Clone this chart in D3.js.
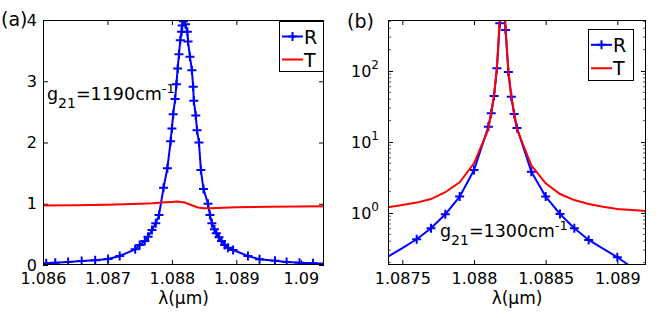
<!DOCTYPE html>
<html>
<head>
<meta charset="utf-8">
<script src="https://cdn.jsdelivr.net/npm/d3@7"></script>
<style>
  body { margin: 0; background: #fff; }
  svg { display: block; font-family: "DejaVu Sans", sans-serif; }
</style>
</head>
<body>
<div id="chart"></div>
<script>
// (a) linear scale, g21 = 1190 cm-1
var lamA = [1.0860, 1.08605, 1.08619, 1.08639, 1.08660, 1.08681, 1.08701, 1.08719, 1.08743, 1.08750,
            1.08758, 1.08763, 1.08769, 1.08775, 1.08780, 1.08787, 1.08793, 1.08798, 1.08800, 1.08802,
            1.08805, 1.08807, 1.08809, 1.08811, 1.08813, 1.08815, 1.08816, 1.08818, 1.08821, 1.08824,
            1.08825, 1.08828, 1.08831, 1.08833, 1.08834, 1.08837, 1.08839, 1.08842, 1.08845, 1.08849,
            1.08856, 1.08859, 1.08862, 1.08866, 1.08869, 1.08873, 1.08877, 1.08882, 1.08887, 1.08895,
            1.08918, 1.08936, 1.08960, 1.08978, 1.08998, 1.09019, 1.09036];
var rA = [0.025, 0.028, 0.038, 0.049, 0.065, 0.077, 0.098, 0.147, 0.256, 0.327,
          0.392, 0.462, 0.571, 0.681, 0.816, 1.26, 1.58, 2.02, 2.23, 2.46,
          2.71, 2.95, 3.21, 3.44, 3.67, 3.81, 3.91, 3.98, 3.93, 3.81,
          3.65, 3.40, 3.18, 2.91, 2.68, 2.44, 2.20, 2.00, 1.55, 1.24,
          1.00, 0.816, 0.681, 0.583, 0.518, 0.452, 0.392, 0.327, 0.282, 0.245,
          0.147, 0.093, 0.070, 0.049, 0.038, 0.028, 0.024];
var markA = lamA.slice(1, -1);
var lamAT = [1.0860, 1.0865, 1.0870, 1.0875, 1.0877, 1.0879, 1.0880, 1.08808, 1.0882, 1.0883,
             1.0884, 1.0885, 1.0886, 1.0888, 1.0890, 1.0895, 1.0900, 1.09036];
var tA = [0.970, 0.975, 0.985, 1.000, 1.010, 1.025, 1.030, 1.035, 1.020, 0.980,
          0.940, 0.928, 0.928, 0.935, 0.942, 0.950, 0.955, 0.960];
var xTicksA = [1.086, 1.087, 1.088, 1.089, 1.09];
var yTicksA = [0, 1, 2, 3, 4];

// (b) log scale, g21 = 1300 cm-1
var lamB = [1.0874, 1.0875, 1.0876, 1.0877, 1.0878, 1.0879, 1.0880, 1.0881, 1.08812, 1.08814,
            1.08816, 1.08818, 1.0882, 1.08822, 1.08824, 1.08826, 1.08828, 1.0883, 1.0884, 1.0885,
            1.0886, 1.0887, 1.0888, 1.0889, 1.0890, 1.0892];
var rB = [0.243, 0.32, 0.426, 0.609, 0.959, 1.70, 4.03, 16.4, 25.4, 44.5,
          109, 470, 2000, 378, 96.8, 43.5, 24.8, 15.7, 3.82, 1.70,
          0.968, 0.609, 0.417, 0.315, 0.238, 0.125];
var markB = [1.0876, 1.0877, 1.0878, 1.0879, 1.0880, 1.0881, 1.08812, 1.08814, 1.08816, 1.08818,
             1.08822, 1.08824, 1.08826, 1.08828, 1.0883, 1.0884, 1.0885, 1.0886, 1.0887, 1.0888, 1.0890];
var lamBT = [1.0874, 1.0875, 1.0876, 1.0877, 1.0878, 1.0879, 1.0880, 1.0881, 1.08812, 1.08814,
             1.08816, 1.08818, 1.0882, 1.08822, 1.08824, 1.08826, 1.08828, 1.0883, 1.0884, 1.0885,
             1.0886, 1.0887, 1.0888, 1.0889, 1.0890, 1.0891, 1.0892];
var tB = [1.20, 1.30, 1.40, 1.57, 1.96, 2.71, 5.0, 15, 26, 46,
          112, 560, 2000, 420, 98, 45, 25, 15, 4.7, 2.62,
          1.85, 1.52, 1.34, 1.22, 1.14, 1.10, 1.07];
var xTicksB = [1.0875, 1.088, 1.0885, 1.089];
var yTicksB = [1, 10, 100];

var svg = d3.select("#chart").append("svg").attr("width", 664).attr("height", 318);

var plus = "M-4.5,0H4.5M0,-4.5V4.5";

function panel(o) {
  var g = svg.append("g");
  var x = d3.scaleLinear().domain(o.xDomain).range([o.left, o.right]);
  var y = (o.log ? d3.scaleLog() : d3.scaleLinear()).domain(o.yDomain).range([o.bottom, o.top]);

  g.append("clipPath").attr("id", o.id).append("rect")
    .attr("x", o.left).attr("y", o.top)
    .attr("width", o.right - o.left).attr("height", o.bottom - o.top);

  // ticks, inward on all four sides
  var ax = [
    [d3.axisBottom(x).tickValues(o.xTicks).tickSize(-5).tickPadding(8).tickFormat(String), "translate(0," + o.bottom + ")"],
    [d3.axisTop(x).tickValues(o.xTicks).tickSize(-5).tickFormat(""), "translate(0," + o.top + ")"],
    [d3.axisLeft(y).tickValues(o.yTicks).tickSize(-5).tickPadding(6).tickFormat(o.log ? "" : String), "translate(" + o.left + ",0)"],
    [d3.axisRight(y).tickValues(o.yTicks).tickSize(-5).tickFormat(""), "translate(" + o.right + ",0)"]
  ];
  ax.forEach(function (a) {
    var s = g.append("g").attr("transform", a[1]).call(a[0]);
    s.select(".domain").remove();
    s.selectAll("line").attr("stroke", "#000");
    s.selectAll("text").attr("fill", "#000").style("font-size", "16px")
      .style("font-family", "DejaVu Sans, sans-serif");
  });

  if (o.log) {
    // minor ticks
    var minors = [];
    [0.1, 1, 10, 100].forEach(function (d) {
      for (var k = 2; k <= 9; k++) {
        var v = d * k;
        if (v > o.yDomain[0] && v < o.yDomain[1]) minors.push(v);
      }
    });
    [[o.left, 3], [o.right, -3]].forEach(function (s) {
      g.selectAll(null).data(minors).enter().append("line")
        .attr("x1", s[0]).attr("x2", s[0] + s[1])
        .attr("y1", function (d) { return y(d); })
        .attr("y2", function (d) { return y(d); })
        .attr("stroke", "#555").attr("stroke-width", 1);
    });
    // 10^n labels
    var lab = g.selectAll(null).data(o.yTicks).enter().append("text")
      .attr("x", o.left - 9).attr("y", function (d) { return y(d) + 6; })
      .attr("text-anchor", "end").style("font-size", "16px");
    lab.append("tspan").text("10");
    lab.append("tspan").attr("dy", -8).style("font-size", "12px")
      .text(function (d) { return Math.round(Math.log10(d)); });
  }

  var line = d3.line().x(function (d) { return x(d[0]); }).y(function (d) { return y(d[1]); });
  var plot = g.append("g").attr("clip-path", "url(#" + o.id + ")");

  var rPts = o.lam.map(function (d, i) { return [d, o.r[i]]; });
  plot.append("path").datum(rPts).attr("d", line)
    .attr("fill", "none").attr("stroke", "#0000ff").attr("stroke-width", 2);
  plot.selectAll(null).data(rPts.filter(function (d) { return o.mark.indexOf(d[0]) >= 0; }))
    .enter().append("path")
    .attr("transform", function (d) { return "translate(" + x(d[0]) + "," + y(d[1]) + ")"; })
    .attr("d", plus).attr("stroke", "#0000ff").attr("stroke-width", 2);

  var tPts = o.lamT.map(function (d, i) { return [d, o.t[i]]; });
  plot.append("path").datum(tPts).attr("d", line)
    .attr("fill", "none").attr("stroke", "#ff0000").attr("stroke-width", 2);

  // box
  g.append("rect").attr("x", o.left + 0.5).attr("y", o.top + 0.5)
    .attr("width", o.right - o.left - 1).attr("height", o.bottom - o.top - 1)
    .attr("fill", "none").attr("stroke", "#000").attr("stroke-width", 1);

  // axis label
  g.append("text").attr("x", (o.left + o.right) / 2).attr("y", 304)
    .attr("text-anchor", "middle").style("font-size", "17px").text("λ(μm)");

  // panel tag
  g.append("text").attr("x", o.tag[1]).attr("y", o.tag[2])
    .style("font-size", "19px").text(o.tag[0]);

  // annotation
  var an = g.append("text").attr("x", o.note[1]).attr("y", o.note[2]).style("font-size", "17.5px");
  an.append("tspan").text("g");
  an.append("tspan").attr("dy", 8).style("font-size", "14px").text("21");
  an.append("tspan").attr("dy", -8).text("=" + o.note[0] + "cm");
  an.append("tspan").attr("dy", -7).style("font-size", "13px").text("-1");

  // legend
  var L = o.legend;
  var lg = g.append("g");
  lg.append("rect").attr("x", L[0] + 0.5).attr("y", L[1] + 0.5).attr("width", L[2]).attr("height", L[3])
    .attr("fill", "#fff").attr("stroke", "#000").attr("stroke-width", 1);
  var rows = [["R", "#0000ff", L[1] + L[3] * 0.31], ["T", "#ff0000", L[1] + L[3] * 0.77]];
  rows.forEach(function (r, i) {
    lg.append("line").attr("x1", L[0] + 3).attr("x2", L[0] + 24)
      .attr("y1", r[2]).attr("y2", r[2]).attr("stroke", r[1]).attr("stroke-width", 2);
    if (i === 0) {
      lg.append("path").attr("transform", "translate(" + (L[0] + 13.5) + "," + r[2] + ")")
        .attr("d", plus).attr("stroke", r[1]).attr("stroke-width", 2);
    }
    lg.append("text").attr("x", L[0] + 25).attr("y", r[2] + 7)
      .style("font-size", "19px").text(r[0]);
  });
}

panel({
  id: "clipA", left: 43, right: 324, top: 20, bottom: 265,
  xDomain: [1.0860, 1.09036], yDomain: [0, 4], log: false,
  xTicks: xTicksA, yTicks: yTicksA,
  lam: lamA, r: rA, mark: markA, lamT: lamAT, t: tA,
  tag: ["(a)", 1, 26], note: ["1190", 47, 100],
  legend: [279, 21, 44, 50]
});

panel({
  id: "clipB", left: 388, right: 646, top: 20, bottom: 265,
  xDomain: [1.0874, 1.0892], yDomain: [0.185, 523], log: true,
  xTicks: xTicksB, yTicks: yTicksB,
  lam: lamB, r: rB, mark: markB, lamT: lamBT, t: tB,
  tag: ["(b)", 347, 28], note: ["1300", 440, 237],
  legend: [588, 29, 45, 51]
});
</script>
</body>
</html>
